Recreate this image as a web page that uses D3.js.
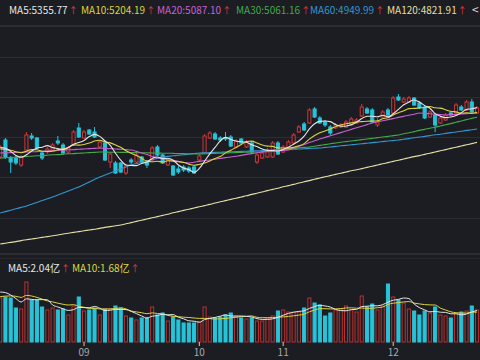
<!DOCTYPE html>
<html>
<head>
<meta charset="utf-8">
<script src="https://cdn.jsdelivr.net/npm/d3@7"></script>
<style>
html, body { margin: 0; padding: 0; background: #1c1d22; }
svg { display: block; }
</style>
</head>
<body>
<svg id="chart" width="480" height="360"></svg>
<script>
// ---- trading days shown (2020)
const augDays = [10, 11, 12, 13, 14, 17, 18, 19, 20, 21, 24, 25, 26, 27, 28, 31];
const sepDays = [1, 2, 3, 4, 7, 8, 9, 10, 11, 14, 15, 16, 17, 18, 21, 22, 23, 24, 25, 28, 29, 30];
const octDays = [9, 12, 13, 14, 15, 16, 19, 20, 21, 22, 23, 26, 27, 28, 29, 30];
const novDays = [2, 3, 4, 5, 6, 9, 10, 11, 12, 13, 16, 17, 18, 19, 20, 23, 24, 25, 26, 27, 30];
const decDays = [1, 2, 3, 4, 7, 8, 9, 10, 11, 14, 15, 16, 17, 18, 21, 22, 23];
const monthTicks = ['09-01', '10-09', '11-02', '12-01'];

// ---- candles
const open = [
    4745, 4830, 4740, 4740, 4705, 4780, 4850, 4840, 4765, 4770,
    4780, 4825, 4805, 4770, 4805, 4890, 4840, 4880, 4870, 4795,
    4815, 4720, 4715, 4715, 4665, 4730, 4720, 4745, 4720, 4730,
    4795, 4755, 4705, 4700, 4685, 4695, 4690, 4695, 4730, 4765,
    4840, 4860, 4840, 4840, 4845, 4795, 4835, 4795, 4815, 4720,
    4740, 4745, 4745, 4815, 4770, 4795, 4815, 4870, 4910, 4915,
    4985, 4940, 4920, 4895, 4890, 4895, 4895, 4905, 4915, 4950,
    4985, 4980, 4905, 4945, 4980, 4965, 5045, 5020, 5020, 5040,
    5015, 4995, 4945, 4955, 4915, 4930, 4965, 4965, 4995, 4980,
    5020, 4965];
const close = [
    4795, 4745, 4720, 4715, 4745, 4855, 4840, 4790, 4740, 4785,
    4805, 4815, 4765, 4790, 4870, 4845, 4870, 4860, 4845, 4820,
    4730, 4760, 4665, 4670, 4700, 4720, 4755, 4720, 4705, 4790,
    4755, 4715, 4730, 4655, 4670, 4680, 4675, 4665, 4750, 4850,
    4865, 4835, 4830, 4835, 4800, 4825, 4815, 4820, 4770, 4755,
    4765, 4780, 4815, 4760, 4795, 4820, 4855, 4895, 4880, 4980,
    4945, 4915, 4905, 4865, 4905, 4905, 4920, 4935, 4930, 4995,
    4965, 4920, 4920, 4970, 4955, 5040, 5030, 5035, 5040, 5005,
    4990, 4940, 4970, 4905, 4940, 4955, 4955, 5005, 4980, 5020,
    4970, 4990];
const high = [
    4805, 4840, 4750, 4750, 4755, 4870, 4865, 4845, 4770, 4795,
    4815, 4850, 4815, 4800, 4880, 4915, 4880, 4885, 4895, 4830,
    4825, 4770, 4725, 4720, 4710, 4740, 4765, 4750, 4730, 4800,
    4805, 4760, 4740, 4705, 4700, 4705, 4700, 4705, 4760, 4860,
    4875, 4870, 4850, 4870, 4855, 4835, 4840, 4830, 4825, 4765,
    4775, 4790, 4825, 4825, 4805, 4830, 4865, 4905, 4920, 4990,
    4995, 4950, 4930, 4905, 4915, 4915, 4930, 4945, 4940, 5010,
    4995, 4990, 4940, 4980, 4990, 5050, 5060, 5045, 5050, 5045,
    5025, 5005, 4980, 4965, 4950, 4965, 4975, 5015, 5005, 5030,
    5035, 5000];
const low = [
    4735, 4735, 4665, 4705, 4695, 4775, 4830, 4785, 4730, 4760,
    4775, 4805, 4755, 4760, 4800, 4840, 4835, 4855, 4840, 4785,
    4725, 4690, 4660, 4665, 4655, 4710, 4715, 4715, 4690, 4725,
    4750, 4710, 4700, 4650, 4660, 4670, 4665, 4660, 4720, 4760,
    4835, 4830, 4820, 4825, 4795, 4790, 4810, 4790, 4765, 4710,
    4735, 4740, 4740, 4755, 4765, 4790, 4810, 4865, 4875, 4910,
    4940, 4910, 4895, 4855, 4885, 4890, 4890, 4900, 4910, 4945,
    4960, 4915, 4895, 4940, 4950, 4960, 5025, 5015, 5015, 5000,
    4985, 4935, 4940, 4870, 4910, 4925, 4950, 4960, 4975, 4975,
    4965, 4960];
// closes of the 9 sessions before the window (for MA5 / MA10)
const prevCloses = [4770, 4755, 4790, 4800, 4775, 4760, 4800, 4815, 4790];

// ---- longer averages
const ma20 = [
    4765, 4766, 4767, 4768, 4769, 4770, 4771, 4772, 4773, 4775,
    4776, 4778, 4779, 4781, 4782, 4784, 4785, 4787, 4788, 4790,
    4788, 4787, 4785, 4784, 4782, 4780, 4773, 4765, 4757, 4748,
    4740, 4736, 4732, 4728, 4723, 4719, 4715, 4719, 4723, 4727,
    4730, 4734, 4738, 4742, 4745, 4749, 4753, 4758, 4762, 4766,
    4770, 4772, 4774, 4776, 4778, 4780, 4789, 4798, 4808, 4817,
    4826, 4835, 4843, 4851, 4859, 4867, 4875, 4883, 4891, 4899,
    4907, 4915, 4921, 4926, 4932, 4937, 4943, 4948, 4954, 4959,
    4965, 4963, 4961, 4959, 4957, 4955, 4957, 4958, 4960, 4962,
    4963, 4965];
const ma30 = [
    4740, 4742, 4743, 4745, 4746, 4748, 4749, 4751, 4752, 4754,
    4756, 4757, 4759, 4761, 4762, 4764, 4765, 4767, 4768, 4770,
    4770, 4769, 4769, 4768, 4768, 4767, 4767, 4766, 4766, 4765,
    4765, 4764, 4764, 4763, 4762, 4762, 4761, 4761, 4760, 4761,
    4762, 4763, 4764, 4765, 4766, 4767, 4768, 4769, 4770, 4770,
    4772, 4775, 4778, 4780, 4783, 4786, 4788, 4791, 4793, 4795,
    4799, 4803, 4807, 4811, 4815, 4819, 4822, 4825, 4828, 4832,
    4835, 4838, 4842, 4845, 4848, 4852, 4855, 4861, 4866, 4872,
    4878, 4883, 4889, 4894, 4900, 4906, 4912, 4919, 4925, 4932,
    4938, 4944];
const ma60 = [
    4465, 4472, 4479, 4486, 4493, 4500, 4509, 4518, 4527, 4536,
    4545, 4555, 4565, 4575, 4585, 4595, 4608, 4620, 4633, 4645,
    4655, 4665, 4675, 4685, 4695, 4705, 4712, 4718, 4725, 4732,
    4738, 4745, 4748, 4751, 4754, 4756, 4759, 4762, 4765, 4766,
    4767, 4768, 4769, 4770, 4771, 4772, 4773, 4774, 4775, 4776,
    4777, 4778, 4780, 4781, 4782, 4783, 4784, 4785, 4786, 4788,
    4789, 4790, 4793, 4795, 4798, 4801, 4803, 4806, 4809, 4811,
    4814, 4817, 4819, 4822, 4825, 4827, 4830, 4834, 4837, 4841,
    4845, 4848, 4852, 4856, 4859, 4863, 4867, 4870, 4874, 4878,
    4881, 4885];
const ma120 = [
    4310, 4314, 4318, 4322, 4327, 4331, 4335, 4339, 4343, 4347,
    4351, 4355, 4360, 4364, 4368, 4372, 4376, 4380, 4384, 4388,
    4393, 4397, 4401, 4405, 4411, 4417, 4423, 4429, 4435, 4441,
    4447, 4453, 4459, 4466, 4472, 4478, 4484, 4490, 4496, 4502,
    4508, 4515, 4521, 4527, 4533, 4539, 4545, 4551, 4558, 4564,
    4570, 4577, 4583, 4589, 4596, 4602, 4608, 4615, 4621, 4627,
    4634, 4640, 4646, 4652, 4658, 4664, 4670, 4676, 4681, 4687,
    4693, 4699, 4705, 4711, 4717, 4723, 4729, 4735, 4741, 4747,
    4752, 4758, 4764, 4770, 4776, 4782, 4788, 4794, 4800, 4806,
    4812, 4818];

// ---- volume (亿)
const volume = [
    2.20, 2.25, 2.20, 1.70, 1.65, 3.00, 2.10, 2.10, 1.75, 1.60,
    1.70, 1.60, 1.65, 1.35, 1.80, 2.25, 1.55, 1.60, 1.70, 1.35,
    1.65, 1.65, 1.80, 1.70, 1.30, 1.20, 1.10, 1.20, 1.20, 1.75,
    1.35, 1.45, 1.05, 1.25, 1.10, 0.95, 0.95, 0.95, 1.00, 1.75,
    1.25, 1.20, 1.25, 1.35, 1.45, 1.25, 1.20, 1.15, 1.20, 1.05,
    1.05, 1.20, 1.30, 1.55, 1.60, 1.50, 1.50, 1.50, 1.70, 2.20,
    1.95, 1.85, 1.30, 1.45, 1.60, 1.65, 1.80, 1.60, 1.50, 2.30,
    1.75, 1.90, 1.60, 1.80, 2.90, 2.25, 2.10, 1.95, 1.65, 1.55,
    1.35, 1.55, 1.45, 1.75, 1.35, 1.30, 1.20, 1.45, 1.50, 1.55,
    1.80, 1.60];
const prevVolumes = [2.0, 2.1, 1.9, 2.2, 2.0, 2.4, 2.8, 2.6, 2.5];

// ---- legend texts
const priceLegend = [
    { label: 'MA5:5355.77', color: '#e6e6e6', x: 9 },
    { label: 'MA10:5204.19', color: '#dcd43c', x: 81 },
    { label: 'MA20:5087.10', color: '#c95fd3', x: 157 },
    { label: 'MA30:5061.16', color: '#45a84c', x: 236 },
    { label: 'MA60:4949.99', color: '#3296cf', x: 310 },
    { label: 'MA120:4821.91', color: '#e3dfa6', x: 387 }
];
const volLegend = [
    { label: 'MA5:2.04亿', color: '#e6e6e6', x: 8 },
    { label: 'MA10:1.68亿', color: '#dcd43c', x: 72 }
];

const RED = '#d0373a';
const CYAN = '#27c3d9';
const BG = '#1c1d22';
const GRID = '#2b2d33';

const pad = (n, d) => String(d).padStart(2, '0');
const dates = [].concat(
    augDays.map(d => '08-' + pad(2, d)),
    sepDays.map(d => '09-' + pad(2, d)),
    octDays.map(d => '10-' + pad(2, d)),
    novDays.map(d => '11-' + pad(2, d)),
    decDays.map(d => '12-' + pad(2, d))
);

const data = dates.map((d, i) => ({
    date: d, open: open[i], high: high[i], low: low[i], close: close[i], vol: volume[i],
    ma20: ma20[i], ma30: ma30[i], ma60: ma60[i], ma120: ma120[i]
}));

// moving average over the window, using the sessions before it
const movingAvg = (values, prev, n) => {
    const all = prev.concat(values);
    return values.map((v, i) => {
        const k = i + prev.length;
        return d3.mean(all.slice(k - n + 1, k + 1));
    });
};
const ma5 = movingAvg(close, prevCloses, 5);
const ma10 = movingAvg(close, prevCloses, 10);
const vma5 = movingAvg(volume, prevVolumes, 5);
const vma10 = movingAvg(volume, prevVolumes, 10);
data.forEach((d, i) => { d.ma5 = ma5[i]; d.ma10 = ma10[i]; d.vma5 = vma5[i]; d.vma10 = vma10[i]; });

const svg = d3.select('#chart');
const W = 480, H = 360;

svg.append('rect').attr('width', W).attr('height', H).attr('fill', BG);

// ---- Escalas
const step = 5.24;
const x0 = 0.2 - step / 2;
const mapX = d3.scaleBand()
    .domain(dates)
    .range([x0, x0 + step * dates.length])
    .paddingInner(0.22)
    .paddingOuter(0.11);
const cx = d => mapX(d) + mapX.bandwidth() / 2;

const mapY = d3.scaleLinear().domain([4280, 5400]).range([250, 26]);
const mapV = d3.scaleLinear().domain([0, 3.2]).range([342, 278]);

// ---- grid / separators
const gridY = d3.range(1, 6).map(k => 16.6 + k * 40.2);
svg.append('g').selectAll('line').data(gridY).join('line')
    .attr('x1', 0).attr('x2', W)
    .attr('y1', d => Math.round(d) + 0.5).attr('y2', d => Math.round(d) + 0.5)
    .attr('stroke', GRID).attr('stroke-width', 1);
svg.append('line').attr('x1', 0).attr('x2', W).attr('y1', 26).attr('y2', 26)
    .attr('stroke', '#2c2e34').attr('stroke-width', 2);
svg.append('line').attr('x1', 0).attr('x2', W).attr('y1', 254).attr('y2', 254)
    .attr('stroke', '#2c2e34').attr('stroke-width', 2);
svg.append('line').attr('x1', 0).attr('x2', W).attr('y1', 258.5).attr('y2', 258.5)
    .attr('stroke', '#25272c').attr('stroke-width', 1);

svg.append('clipPath').attr('id', 'clipPrice')
    .append('rect').attr('x', 0).attr('y', 27).attr('width', W).attr('height', 226);
svg.append('clipPath').attr('id', 'clipVol')
    .append('rect').attr('x', 0).attr('y', 262).attr('width', W).attr('height', 82);

// ---- candles
const price = svg.append('g').attr('clip-path', 'url(#clipPrice)');
const up = d => d.close >= d.open;

price.append('g').selectAll('line').data(data).join('line')
    .attr('x1', d => cx(d.date)).attr('x2', d => cx(d.date))
    .attr('y1', d => mapY(d.high)).attr('y2', d => mapY(d.low))
    .attr('stroke', d => up(d) ? RED : CYAN).attr('stroke-width', 1);

price.append('g').selectAll('rect').data(data).join('rect')
    .attr('x', d => mapX(d.date) + 0.5)
    .attr('y', d => mapY(Math.max(d.open, d.close)))
    .attr('width', mapX.bandwidth() - 1)
    .attr('height', d => Math.max(1, Math.abs(mapY(d.open) - mapY(d.close))))
    .attr('fill', d => up(d) ? BG : CYAN)
    .attr('stroke', d => up(d) ? RED : CYAN)
    .attr('stroke-width', 1);

// ---- moving averages
const maLines = [
    { key: 'ma120', color: '#e3dfa6' },
    { key: 'ma60', color: '#3296cf' },
    { key: 'ma30', color: '#45a84c' },
    { key: 'ma20', color: '#c95fd3' },
    { key: 'ma10', color: '#dcd43c' },
    { key: 'ma5', color: '#e6e6e6' }
];
maLines.forEach(m => {
    price.append('path').datum(data)
        .attr('fill', 'none')
        .attr('stroke', m.color)
        .attr('stroke-width', 1.1)
        .attr('d', d3.line().curve(d3.curveMonotoneX)
            .x(d => cx(d.date)).y(d => mapY(d[m.key])));
});

// ---- volume
const vol = svg.append('g').attr('clip-path', 'url(#clipVol)');
vol.append('g').selectAll('rect').data(data).join('rect')
    .attr('x', d => mapX(d.date) + 0.5)
    .attr('y', d => mapV(d.vol))
    .attr('width', mapX.bandwidth() - 1)
    .attr('height', d => mapV(0) - mapV(d.vol))
    .attr('fill', d => up(d) ? BG : CYAN)
    .attr('stroke', d => up(d) ? '#b8302f' : CYAN)
    .attr('stroke-width', 1);

[{ key: 'vma10', color: '#dcd43c' }, { key: 'vma5', color: '#e6e6e6' }].forEach(m => {
    vol.append('path').datum(data)
        .attr('fill', 'none')
        .attr('stroke', m.color)
        .attr('stroke-width', 1)
        .attr('d', d3.line().curve(d3.curveMonotoneX)
            .x(d => cx(d.date)).y(d => mapV(d[m.key])));
});

// ---- Eixo X
const xAxis = d3.axisBottom(mapX)
    .tickValues(monthTicks)
    .tickFormat(d => d.slice(0, 2))
    .tickSize(4)
    .tickPadding(3);
const gx = svg.append('g')
    .attr('transform', 'translate(0, 342)')
    .call(xAxis);
gx.select('.domain').remove();
gx.selectAll('.tick line').attr('stroke', '#d9c7b8');
gx.selectAll('.tick text')
    .attr('fill', '#a9a9ad')
    .style('font-family', '"Noto Sans CJK SC", "Noto Sans", sans-serif')
    .style('font-size', '10px');

// ---- legends
const font = '"Noto Sans CJK SC", "Noto Sans", sans-serif';
const drawLegend = (items, y) => {
    items.forEach(it => {
        const t = svg.append('text')
            .attr('x', it.x).attr('y', y)
            .style('font-family', font)
            .style('font-size', '10px');
        t.append('tspan').attr('fill', it.color).text(it.label);
        t.append('tspan').attr('fill', '#e0383a').attr('dx', 1).style('font-size', '9px').text('↑');
    });
};
drawLegend(priceLegend, 14);
drawLegend(volLegend, 272);

svg.append('text')
    .attr('x', 472).attr('y', 14)
    .attr('fill', '#d8d8d8')
    .style('font-family', font)
    .style('font-size', '12px')
    .text('<');
</script>
</body>
</html>
